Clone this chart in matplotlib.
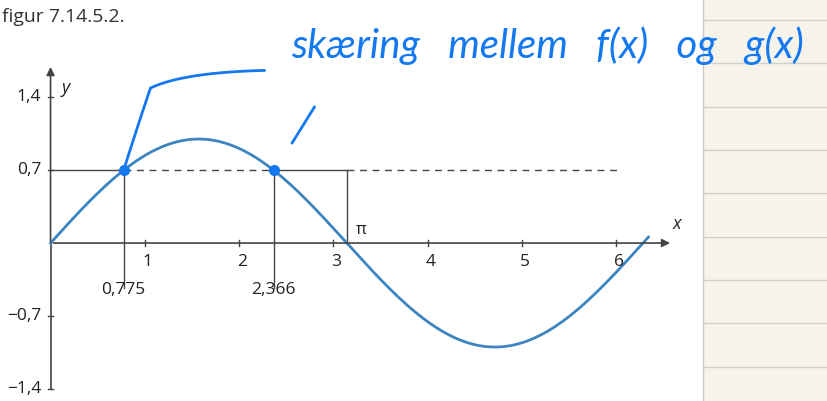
import numpy as np
import matplotlib
matplotlib.use('Agg')
import matplotlib.pyplot as plt
from matplotlib.patches import Rectangle

# figur 7.14.5.2. : f(x) = sin(x) og g(x) = 0,7
x_ticks = [1, 2, 3, 4, 5, 6]
y_ticks = [1.4, 0.7, -0.7, -1.4]
y_labels = ["1,4", "0,7", "\u22120,7", "\u22121,4"]
g_level = 0.7
x_cross = [0.775, 2.366]
x_cross_labels = ["0,775", "2,366"]
x_end = 6.34

plt.rcParams['font.family'] = ['Open Sans', 'DejaVu Sans']
grey = '#444444'
curve_col = '#3d85c0'
ink = '#1479f0'

fig = plt.figure(figsize=(8.27, 4.01), dpi=100)
ax = fig.add_axes([0, 0, 1, 1])
ax.set_xlim(-0.536, 8.234)
ax.set_ylim(-1.519, 2.337)
ax.axis('off')

# notesbog-panel til højre
ax.add_patch(Rectangle((703/827, 0), 1, 1, transform=ax.transAxes,
                       facecolor='#f6f4ea', edgecolor='none', zorder=0))
ax.plot([703/827, 703/827], [0, 1], transform=ax.transAxes, color='#c8c8c8', lw=1)
for yp in [20, 63, 107, 150, 193, 237, 280, 323, 367]:
    ax.plot([703/827, 1], [1 - yp/401, 1 - yp/401], transform=ax.transAxes,
            color='#cfcfcf', lw=1)

# akser
ax.annotate('', xy=(6.6, 0), xytext=(0, 0),
            arrowprops=dict(arrowstyle='-|>', color=grey, lw=1.2, mutation_scale=12))
ax.plot([0, 0], [-1.4, 0], color=grey, lw=1.2)
ax.annotate('', xy=(0, 1.72), xytext=(0, -0.01),
            arrowprops=dict(arrowstyle='-|>', color=grey, lw=1.2, mutation_scale=12))
ax.text(6.64, 0.1, 'x', fontsize=13, style='italic', color='#222222', ha='center', va='bottom')
ax.text(0.12, 1.49, 'y', fontsize=13, style='italic', color='#222222', ha='left', va='center')

for t in x_ticks:
    ax.plot([t, t], [-0.03, 0.03], color=grey, lw=1)
    ax.text(t + 0.03, -0.11, str(t), fontsize=12.5, color='#222222', ha='center', va='top')
for t, lab in zip(y_ticks, y_labels):
    ax.plot([-0.03, 0.03], [t, t], color=grey, lw=1)
    ax.text(-0.1, t, lab, fontsize=12.5, color='#222222', ha='right', va='center')

# hjælpelinjer
ax.plot([0, x_cross[0]], [g_level, g_level], color=grey, lw=1)
ax.plot([x_cross[0], x_cross[1]], [g_level, g_level], color=grey, lw=1, ls=(0, (5, 4)))
ax.plot([x_cross[1], np.pi], [g_level, g_level], color=grey, lw=1)
ax.plot([np.pi, 6.05], [g_level, g_level], color=grey, lw=1, ls=(0, (5, 4)))
for xc, lab in zip(x_cross, x_cross_labels):
    ax.plot([xc, xc], [g_level, -0.43], color=grey, lw=1)
    ax.text(xc, -0.37, lab, fontsize=12.5, color='#222222', ha='center', va='top')
ax.plot([np.pi, np.pi], [g_level, 0], color=grey, lw=1)
ax.text(np.pi + 0.1, 0.05, '\u03c0', fontsize=12, color='#222222', ha='left', va='bottom')

# f(x) = sin(x)
xs = np.linspace(0, x_end, 400)
ax.plot(xs, np.sin(xs), color=curve_col, lw=2)

# håndskrevne noter
ax.plot(x_cross, [g_level, g_level], 'o', color=ink, ms=7, zorder=5)
t = np.linspace(0, 1, 50)
px = (1-t)**2 * 0.775 + 2*(1-t)*t * 0.95 + t**2 * 1.06
py = (1-t)**2 * 0.70 + 2*(1-t)*t * 1.20 + t**2 * 1.49
ax.plot(px, py, color=ink, lw=2, solid_capstyle='round')
qx = (1-t)**2 * 1.06 + 2*(1-t)*t * 1.4 + t**2 * 2.27
qy = (1-t)**2 * 1.49 + 2*(1-t)*t * 1.64 + t**2 * 1.66
ax.plot(qx, qy, color=ink, lw=2, solid_capstyle='round')
ax.plot([2.56, 2.80], [0.96, 1.31], color=ink, lw=2, solid_capstyle='round')
ax.text(2.55, 1.90, 'skæring   mellem   f(x)   og   g(x)', fontsize=29, style='italic',
        color=ink, ha='left', va='center', family=['Lato', 'DejaVu Sans'])

fig.text(0.002, 0.958, 'figur 7.14.5.2.', fontsize=14, color='#333333', ha='left', va='center')

plt.savefig('out.png', dpi=100)
